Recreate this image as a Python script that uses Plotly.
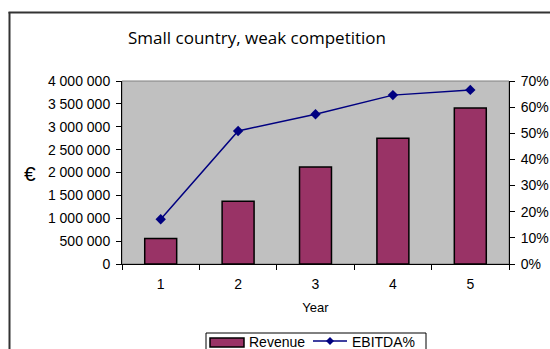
import plotly.graph_objects as go

years = ["1", "2", "3", "4", "5"]
revenue = [560000, 1370000, 2120000, 2750000, 3410000]
ebitda_pct = [0.171, 0.509, 0.573, 0.646, 0.666]
left_tickvals = [0, 500000, 1000000, 1500000, 2000000, 2500000, 3000000, 3500000, 4000000]
left_ticktext = ["0", "500 000", "1 000 000", "1 500 000", "2 000 000", "2 500 000",
                 "3 000 000", "3 500 000", "4 000 000"]

FONT = "Liberation Sans, Arial, sans-serif"
W, H = 550, 349
L, R, T, B = 122, 509, 81, 264
BAR_COLOR = "#993366"
LINE_COLOR = "#000080"

fig = go.Figure()
fig.add_trace(go.Bar(
    x=years, y=revenue, name="Revenue",
    marker=dict(color=BAR_COLOR, line=dict(color="black", width=1.5)),
))
fig.add_trace(go.Scatter(
    x=years, y=ebitda_pct, name="EBITDA%", yaxis="y2", mode="lines+markers",
    line=dict(color=LINE_COLOR, width=1.5),
    marker=dict(symbol="diamond", size=8, color=LINE_COLOR),
))

def px_x(p):
    return (p - L) / (R - L)

def px_y(p):
    return (B - p) / (B - T)

tick_font = dict(family=FONT, size=14, color="black")

shapes = [
    # plot area border
    dict(type="rect", xref="paper", yref="paper", x0=0, x1=1, y0=0, y1=1,
         line=dict(color="#808080", width=1), layer="below"),
    # outer chart frame (left and top edges visible)
    dict(type="line", xref="paper", yref="paper", x0=px_x(9.5), x1=px_x(9.5),
         y0=px_y(12), y1=px_y(H + 5), line=dict(color="#333333", width=2)),
    dict(type="line", xref="paper", yref="paper", x0=px_x(8.5), x1=px_x(W + 5),
         y0=px_y(12.5), y1=px_y(12.5), line=dict(color="#333333", width=2)),
    # legend box
    dict(type="rect", xref="paper", yref="paper", x0=px_x(206), x1=px_x(426),
         y0=px_y(333), y1=px_y(H + 10), line=dict(color="black", width=1),
         fillcolor="white"),
    # legend swatches
    dict(type="rect", xref="paper", yref="paper", x0=px_x(210), x1=px_x(244),
         y0=px_y(338), y1=px_y(347), line=dict(color="black", width=1.5),
         fillcolor=BAR_COLOR),
    dict(type="line", xref="paper", yref="paper", x0=px_x(313), x1=px_x(347),
         y0=px_y(341), y1=px_y(341), line=dict(color=LINE_COLOR, width=1.5)),
    dict(type="path", xref="paper", yref="paper",
         path="M {a},{b} L {c},{d} L {a},{e} L {f},{d} Z".format(
             a=px_x(330), b=px_y(337), c=px_x(334), d=px_y(341), e=px_y(345), f=px_x(326)),
         line=dict(color=LINE_COLOR, width=0), fillcolor=LINE_COLOR),
]

annotations = [
    dict(text="€", xref="paper", yref="paper", x=px_x(30), y=px_y(173),
         xanchor="center", yanchor="middle", showarrow=False,
         font=dict(family=FONT, size=21, color="black")),
    dict(text="Revenue", xref="paper", yref="paper", x=px_x(247), y=px_y(342),
         xanchor="left", yanchor="middle", showarrow=False,
         font=dict(family=FONT, size=14, color="black")),
    dict(text="EBITDA%", xref="paper", yref="paper", x=px_x(350), y=px_y(342),
         xanchor="left", yanchor="middle", showarrow=False,
         font=dict(family=FONT, size=14, color="black")),
]

fig.update_layout(
    width=W, height=H,
    margin=dict(l=L, r=W - R, t=T, b=H - B, autoexpand=False),
    paper_bgcolor="white", plot_bgcolor="#C0C0C0",
    bargap=0.587,
    showlegend=False,
    title=dict(text="Small country, weak competition", x=257 / W, xanchor="center",
               y=1 - 38 / H, yanchor="middle",
               font=dict(family="Open Sans, sans-serif", size=17, color="black")),
    xaxis=dict(type="category", tickson="boundaries", ticks="outside", ticklen=5,
               tickcolor="black", showline=True, linecolor="black", linewidth=1,
               showgrid=False, tickfont=tick_font, automargin=False,
               ticklabelstandoff=7,
               title=dict(text="Year", font=dict(family=FONT, size=13, color="black"),
                          standoff=12)),
    yaxis=dict(range=[0, 4000000], tickvals=left_tickvals, ticktext=left_ticktext,
               ticks="outside", ticklen=5, tickcolor="black", showline=True,
               linecolor="black", linewidth=1, showgrid=False, zeroline=False,
               tickfont=tick_font, automargin=False, ticklabelstandoff=3),
    yaxis2=dict(range=[0, 0.7], dtick=0.1, tickformat=".0%", overlaying="y", side="right",
                ticks="outside", ticklen=5, tickcolor="black", showline=True,
                linecolor="black", linewidth=1, showgrid=False, zeroline=False,
                tickfont=tick_font, automargin=False, ticklabelstandoff=3),
    shapes=shapes,
    annotations=annotations,
)

fig.write_html("out.html")
